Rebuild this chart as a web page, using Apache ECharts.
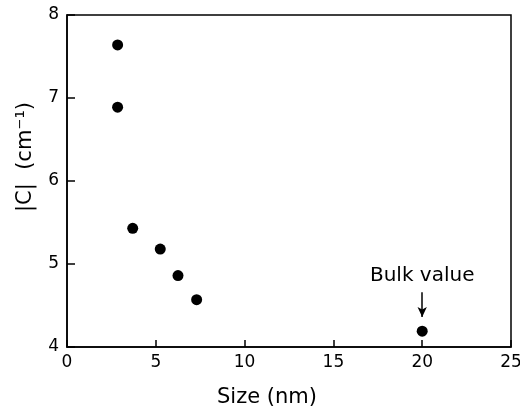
<!DOCTYPE html>
<html>
<head>
<meta charset="utf-8">
<script src="https://cdn.jsdelivr.net/npm/echarts@6/dist/echarts.min.js"></script>
<style>html,body{margin:0;padding:0;background:#fff}#c{width:520px;height:415px}</style>
</head>
<body>
<div id="c"></div>
<script>
const sizes = [2.85, 2.85, 3.7, 5.25, 6.25, 7.3, 20];
const cValues = [7.64, 6.89, 5.43, 5.18, 4.86, 4.57, 4.19];
const xTicks = [0, 5, 10, 15, 20, 25];
const yTicks = [4, 5, 6, 7, 8];
const bulkLabel = 'Bulk value';

const font = 'DejaVu Sans';
const chart = echarts.init(document.getElementById('c'));
chart.setOption({
  animation: false,
  backgroundColor: '#fff',
  grid: { left: 67, right: 9, top: 15, bottom: 68, show: true, borderColor: '#000', borderWidth: 1.5, outerBoundsMode: 'none', containLabel: false },
  xAxis: {
    type: 'value', min: xTicks[0], max: xTicks[xTicks.length - 1], interval: 5,
    name: 'Size (nm)', nameLocation: 'middle', nameGap: 40,
    nameTextStyle: { fontFamily: font, fontSize: 21, color: '#000', padding: [0, 44, 0, 0] },
    axisLine: { show: true, lineStyle: { color: '#000', width: 1.5 } },
    axisTick: { show: true, inside: true, length: 7, lineStyle: { color: '#000', width: 1.5 } },
    axisLabel: { fontFamily: font, fontSize: 17, color: '#000', margin: 7 },
    splitLine: { show: false }
  },
  yAxis: {
    type: 'value', min: yTicks[0], max: yTicks[yTicks.length - 1], interval: 1,
    name: '|C|  (cm\u207B\u00B9)', nameLocation: 'middle', nameGap: 31,
    nameTextStyle: { fontFamily: font, fontSize: 21, color: '#000', padding: [0, 0, 0, 48] },
    axisLine: { show: true, lineStyle: { color: '#000', width: 1.5 } },
    axisTick: { show: true, inside: true, length: 8, lineStyle: { color: '#000', width: 1.5 } },
    axisLabel: { fontFamily: font, fontSize: 17, color: '#000', margin: 8 },
    splitLine: { show: false }
  },
  series: [{
    type: 'scatter',
    data: sizes.map((s, i) => [s, cValues[i]]),
    symbol: 'circle', symbolSize: 11,
    itemStyle: { color: '#000', opacity: 1 },
    markLine: {
      silent: true,
      symbolSize: [7, 10],
      lineStyle: { color: '#000', width: 1.5, type: 'solid' },
      label: { show: true, position: 'start', formatter: bulkLabel, fontFamily: font, fontSize: 20, color: '#000', distance: 6 },
      data: [[
        { coord: [sizes[6], 4.66], symbol: 'none' },
        { coord: [sizes[6], 4.36], symbol: 'arrow' }
      ]]
    }
  }]
});
</script>
</body>
</html>
